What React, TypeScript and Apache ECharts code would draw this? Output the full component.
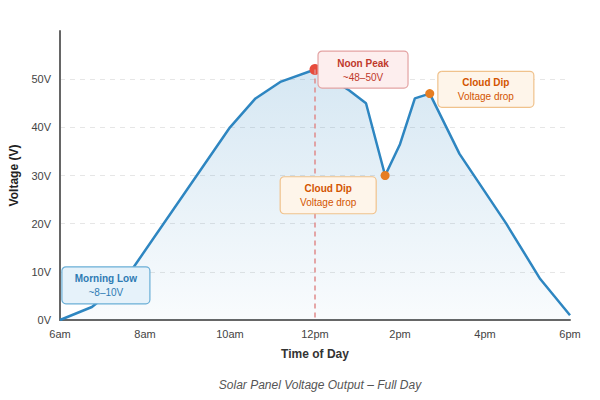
import React, { useEffect, useRef } from "react";
import * as echarts from "echarts";

// Time of day in decimal hours and panel voltage at each reading
const hours = [6, 6.75, 7.5, 10, 10.6, 11.2, 12, 12.8, 13.2, 13.65, 14, 14.35, 14.7, 15.4, 16.5, 17.3, 18];
const volts = [0, 2.7, 8, 40, 46, 49.5, 52, 47.7, 45, 30, 36.5, 46, 47, 34.5, 20, 8.5, 1];

// Highlighted readings
const peakPoint = [12, 52];
const dipPoints = [
  [13.65, 30],
  [14.7, 47],
];

const xTicks = [6, 8, 10, 12, 14, 16, 18];
const yTicks = [0, 10, 20, 30, 40, 50];

// Callout boxes, centred on a data coordinate [hour, volts]
const callouts = [
  { title: "Noon Peak", sub: "~48–50V", at: [13.13, 52.0], w: 90, h: 37, fill: "#fdeeee", stroke: "#e3a3a3", color: "#c0392b" },
  { title: "Cloud Dip", sub: "Voltage drop", at: [16.02, 47.9], w: 96, h: 36, fill: "#fef5ea", stroke: "#f0c28c", color: "#d35400" },
  { title: "Cloud Dip", sub: "Voltage drop", at: [12.31, 25.9], w: 96, h: 37, fill: "#fef5ea", stroke: "#f0c28c", color: "#d35400" },
  { title: "Morning Low", sub: "~8–10V", at: [7.08, 7.2], w: 88, h: 37, fill: "#e6f2fa", stroke: "#6aaed6", color: "#2e7bb4" },
];

const FONT = "'Liberation Sans', Arial, Helvetica, sans-serif";

const hourLabel = (h: number) => (h < 12 ? `${h}am` : h === 12 ? "12pm" : `${h - 12}pm`);

export default function App() {
  const ref = useRef<HTMLDivElement>(null);

  useEffect(() => {
    if (!ref.current) return;
    const chart = echarts.init(ref.current, null, { renderer: "svg" });

    chart.setOption({
      animation: false,
      textStyle: { fontFamily: FONT },
      title: {
        text: "Solar Panel Voltage Output – Full Day",
        left: 315,
        textAlign: "center",
        top: 374,
        textStyle: { fontSize: 12, fontStyle: "italic", fontWeight: "normal", color: "#555", fontFamily: FONT },
      },
      grid: { left: 60, right: 30, top: 31, bottom: 80 },
      xAxis: {
        type: "value",
        min: xTicks[0],
        max: xTicks[xTicks.length - 1],
        interval: 2,
        name: "Time of Day",
        nameLocation: "middle",
        nameGap: 28,
        nameTextStyle: { fontSize: 12, fontWeight: "bold", color: "#333", fontFamily: FONT },
        axisLine: { lineStyle: { color: "#666", width: 2 } },
        axisTick: { show: false },
        splitLine: { show: false },
        axisLabel: { formatter: hourLabel, fontSize: 11, color: "#444", margin: 8 },
      },
      yAxis: {
        type: "value",
        min: 0,
        max: 60,
        interval: 10,
        name: "Voltage (V)",
        nameLocation: "middle",
        nameGap: 40,
        nameTextStyle: { fontSize: 12, fontWeight: "bold", color: "#222", fontFamily: FONT },
        axisLine: { show: true, lineStyle: { color: "#666", width: 2 } },
        axisTick: { show: false },
        axisLabel: {
          fontSize: 11,
          color: "#444",
          margin: 9,
          showMaxLabel: false,
          formatter: (v: number) => (yTicks.includes(v) ? `${v}V` : ""),
        },
        splitLine: { show: true, showMaxLine: false, lineStyle: { color: "#e6e6e6", type: [5, 5], width: 1 } },
      },
      series: [
        {
          type: "line",
          data: hours.map((h, i) => [h, volts[i]]),
          symbol: "none",
          lineStyle: { color: "#2e86c1", width: 2.5 },
          areaStyle: {
            color: new echarts.graphic.LinearGradient(0, 0, 0, 1, [
              { offset: 0, color: "rgba(46,134,193,0.28)" },
              { offset: 1, color: "rgba(46,134,193,0.04)" },
            ]),
          },
          markLine: {
            silent: true,
            symbol: "none",
            label: { show: false },
            lineStyle: { color: "#e08a8a", type: [5, 4], width: 1.5 },
            data: [[{ coord: [peakPoint[0], peakPoint[1]] }, { coord: [peakPoint[0], 0] }]],
          },
          z: 2,
        },
        {
          type: "scatter",
          data: dipPoints,
          symbolSize: 9,
          itemStyle: { color: "#e67e22", opacity: 1 },
          z: 3,
        },
        {
          type: "scatter",
          data: [peakPoint],
          symbolSize: 11,
          itemStyle: { color: "#e74c3c", opacity: 1 },
          z: 3,
        },
      ],
    });

    // Place the callouts once the axes are laid out
    const graphic = callouts.map((c) => {
      const [cx, cy] = chart.convertToPixel({ gridIndex: 0 }, c.at) as number[];
      return {
        type: "group",
        x: cx - c.w / 2,
        y: cy - c.h / 2,
        z: 100,
        children: [
          {
            type: "rect",
            z: 100,
            shape: { x: 0, y: 0, width: c.w, height: c.h, r: 4 },
            style: { fill: c.fill, stroke: c.stroke, lineWidth: 1.2, opacity: 1 },
          },
          {
            type: "text",
            z: 101,
            x: c.w / 2,
            y: c.h / 2 - 6.5,
            style: {
              text: c.title,
              fill: c.color,
              font: `bold 10px ${FONT}`,
              align: "center",
              verticalAlign: "middle",
            },
          },
          {
            type: "text",
            z: 101,
            x: c.w / 2,
            y: c.h / 2 + 7.5,
            style: {
              text: c.sub,
              fill: c.color,
              font: `10px ${FONT}`,
              align: "center",
              verticalAlign: "middle",
            },
          },
        ],
      };
    });
    chart.setOption({ graphic });

    return () => chart.dispose();
  }, []);

  return <div ref={ref} style={{ width: 600, height: 400, position: "absolute", left: 0, top: 0 }} />;
}
